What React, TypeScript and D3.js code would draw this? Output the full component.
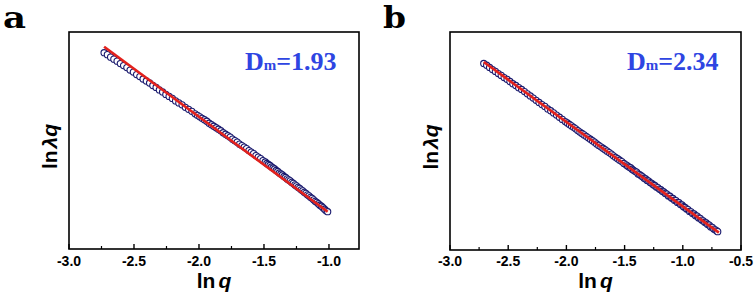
import React from "react";
import * as d3 from "d3";

// ---------- data ----------
const lnqA = [
  -2.73, -2.705, -2.68, -2.655, -2.63, -2.605, -2.58, -2.555, -2.53, -2.505,
  -2.48, -2.455, -2.43, -2.405, -2.38, -2.355, -2.33, -2.305, -2.28, -2.255,
  -2.23, -2.205, -2.18, -2.155, -2.13, -2.105, -2.08, -2.055, -2.03, -2.012,
  -1.994, -1.976, -1.958, -1.94, -1.922, -1.904, -1.886, -1.868, -1.85, -1.832,
  -1.814, -1.796, -1.778, -1.76, -1.742, -1.724, -1.706, -1.688, -1.67, -1.652,
  -1.634, -1.616, -1.598, -1.58, -1.562, -1.544, -1.526, -1.508, -1.49, -1.478,
  -1.466, -1.454, -1.442, -1.43, -1.418, -1.406, -1.394, -1.382, -1.37, -1.358,
  -1.346, -1.334, -1.322, -1.31, -1.298, -1.286, -1.274, -1.262, -1.25, -1.238,
  -1.226, -1.214, -1.202, -1.19, -1.178, -1.166, -1.154, -1.142, -1.13, -1.118,
  -1.106, -1.094, -1.082, -1.07, -1.058, -1.046, -1.034, -1.022, -1.01,
];
const lnLambdaA = [
  5.15, 5.11, 5.06, 5.02, 4.98, 4.93, 4.89, 4.85, 4.80, 4.76,
  4.71, 4.67, 4.62, 4.58, 4.54, 4.49, 4.45, 4.40, 4.36, 4.31,
  4.27, 4.23, 4.18, 4.14, 4.10, 4.05, 4.01, 3.97, 3.92, 3.89,
  3.86, 3.83, 3.80, 3.77, 3.73, 3.70, 3.67, 3.64, 3.61, 3.58,
  3.54, 3.51, 3.48, 3.45, 3.41, 3.38, 3.35, 3.31, 3.28, 3.25,
  3.22, 3.18, 3.15, 3.12, 3.08, 3.05, 3.02, 2.98, 2.95, 2.92,
  2.90, 2.88, 2.85, 2.83, 2.81, 2.78, 2.76, 2.73, 2.71, 2.69,
  2.66, 2.64, 2.61, 2.59, 2.57, 2.54, 2.52, 2.49, 2.47, 2.44,
  2.42, 2.39, 2.37, 2.34, 2.32, 2.29, 2.27, 2.24, 2.22, 2.19,
  2.16, 2.14, 2.11, 2.08, 2.06, 2.03, 2.00, 1.97, 1.95,
];

const lnqB = [
  -2.71, -2.685, -2.66, -2.635, -2.61, -2.585, -2.56, -2.535, -2.51, -2.485,
  -2.46, -2.435, -2.41, -2.385, -2.36, -2.335, -2.31, -2.285, -2.26, -2.235,
  -2.21, -2.185, -2.16, -2.135, -2.11, -2.085, -2.06, -2.035, -2.01,
  -1.992, -1.974, -1.956, -1.938, -1.92, -1.902, -1.884, -1.866, -1.848, -1.83,
  -1.812, -1.794, -1.776, -1.758, -1.74, -1.722, -1.704, -1.686, -1.668, -1.65,
  -1.632, -1.614, -1.596, -1.578, -1.56, -1.542, -1.524, -1.506, -1.488,
  -1.475, -1.462, -1.449, -1.436, -1.423, -1.41, -1.397, -1.384, -1.371, -1.358,
  -1.345, -1.332, -1.319, -1.306, -1.293, -1.28, -1.267, -1.254, -1.241, -1.228,
  -1.215, -1.202, -1.189, -1.176, -1.163, -1.15, -1.137, -1.124, -1.111, -1.098,
  -1.085, -1.072, -1.059, -1.046, -1.033, -1.02, -1.007, -0.994, -0.981, -0.968,
  -0.955, -0.942, -0.929, -0.916, -0.903, -0.89, -0.877, -0.864, -0.851, -0.838,
  -0.825, -0.812, -0.799, -0.786, -0.773, -0.76, -0.747, -0.734, -0.721, -0.708,
  -0.7,
];
const lnLambdaB = [
  6.30, 6.25, 6.19, 6.13, 6.08, 6.02, 5.97, 5.91, 5.86, 5.80,
  5.74, 5.69, 5.63, 5.58, 5.52, 5.46, 5.40, 5.34, 5.28, 5.22,
  5.16, 5.11, 5.04, 4.99, 4.93, 4.87, 4.81, 4.75, 4.69,
  4.65, 4.61, 4.57, 4.53, 4.49, 4.44, 4.40, 4.36, 4.32, 4.28,
  4.24, 4.20, 4.16, 4.12, 4.07, 4.03, 3.99, 3.95, 3.91, 3.87,
  3.83, 3.79, 3.74, 3.70, 3.66, 3.62, 3.58, 3.53, 3.49,
  3.46, 3.43, 3.41, 3.37, 3.34, 3.31, 3.29, 3.24, 3.22, 3.19,
  3.16, 3.12, 3.10, 3.06, 3.04, 3.00, 2.98, 2.94, 2.92, 2.88,
  2.86, 2.82, 2.80, 2.76, 2.74, 2.70, 2.68, 2.63, 2.62, 2.57,
  2.56, 2.51, 2.50, 2.45, 2.44, 2.39, 2.38, 2.33, 2.31, 2.27,
  2.25, 2.20, 2.19, 2.14, 2.13, 2.08, 2.07, 2.02, 2.01, 1.96,
  1.94, 1.90, 1.88, 1.84, 1.82, 1.77, 1.76, 1.71, 1.69, 1.66,
  1.64,
];

const fitSlopes = [-1.93, -2.34];
const fitIntercepts = [0, 0];
const fitRangeA = [-2.73, -1.01];
const fitRangeB = [-2.71, -0.69];

const majorTicksA = [-3.0, -2.5, -2.0, -1.5, -1.0];
const minorTicksA = [-2.75, -2.25, -1.75, -1.25];
const majorTicksB = [-3.0, -2.5, -2.0, -1.5, -1.0, -0.5];
const minorTicksB = [-2.75, -2.25, -1.75, -1.25, -0.75];

const panelLetters = ["a", "b"];
const dmValues = ["1.93", "2.34"];

// ---------- styles ----------
const BLUE_TEXT = "#2e45e2";
const RED = "#e3211c";
const NAVY = "#1a1a6e";
const SANS = "'Liberation Sans', Arial, sans-serif";
const SERIF = "'Liberation Serif', 'Times New Roman', serif";
const LETTER_FONT = "'DejaVu Serif', 'Liberation Serif', serif";

type PanelProps = {
  xs: number[];
  ys: number[];
  slope: number;
  intercept: number;
  fitRange: number[];
  majors: number[];
  minors: number[];
  letter: string;
  dm: string;
  frame: { left: number; right: number; top: number; bottom: number };
  xDomain: [number, number];
  yDomain: [number, number];
  letterX: number;
  dmX: number;
  yTitleX: number;
};

function Panel(p: PanelProps) {
  const { frame } = p;
  const x = d3.scaleLinear().domain(p.xDomain).range([frame.left, frame.right]);
  const y = d3.scaleLinear().domain(p.yDomain).range([frame.bottom, frame.top]);
  const fitPts: [number, number][] = p.fitRange.map((v) => [v, p.slope * v + p.intercept]);
  const line = d3
    .line<[number, number]>()
    .x((d) => x(d[0]))
    .y((d) => y(d[1]));
  const cx = (frame.left + frame.right) / 2;
  const cy = (frame.top + frame.bottom) / 2 + 6;
  return (
    <g>
      <text
        x={p.letterX}
        y={28}
        fontFamily={LETTER_FONT}
        fontWeight="bold"
        fontSize={29}
        textLength={23}
        lengthAdjust="spacingAndGlyphs"
        fill="#000"
      >
        {p.letter}
      </text>
      {/* data */}
      <g>
        {p.xs.map((v, i) => (
          <circle
            key={i}
            cx={x(v)}
            cy={y(p.ys[i])}
            r={3.1}
            fill="#fff"
            stroke={NAVY}
            strokeWidth={1.1}
          />
        ))}
      </g>
      <path d={line(fitPts) || ""} stroke={RED} strokeWidth={2.7} fill="none" />
      {/* frame */}
      <rect
        x={frame.left}
        y={frame.top}
        width={frame.right - frame.left}
        height={frame.bottom - frame.top}
        fill="none"
        stroke="#000"
        strokeWidth={1.6}
      />
      {p.majors.map((t) => (
        <line key={"M" + t} x1={x(t)} x2={x(t)} y1={frame.bottom} y2={frame.bottom - 5} stroke="#000" strokeWidth={1.4} />
      ))}
      {p.minors.map((t) => (
        <line key={"m" + t} x1={x(t)} x2={x(t)} y1={frame.bottom} y2={frame.bottom - 3} stroke="#000" strokeWidth={1.2} />
      ))}
      {p.majors.map((t) => (
        <text
          key={"L" + t}
          x={x(t)}
          y={266}
          textAnchor="middle"
          fontFamily={SANS}
          fontWeight="bold"
          fontSize={14}
          fill="#000"
        >
          {t.toFixed(1)}
        </text>
      ))}
      <text x={cx} y={288} textAnchor="middle" fontFamily={SANS} fontWeight="bold" fontSize={21} fill="#000">
        ln
        <tspan dx={3} fontStyle="italic">q</tspan>
      </text>
      <text
        transform={`translate(${p.yTitleX},${cy}) rotate(-90)`}
        textAnchor="middle"
        fontFamily={SANS}
        fontWeight="bold"
        fontSize={21}
        fill="#000"
      >
        ln
        <tspan dx={2} fontStyle="italic">λ</tspan>
        <tspan fontStyle="italic">q</tspan>
      </text>
      <text x={p.dmX} y={70} fontFamily={SERIF} fontWeight="bold" fontSize={26} fill={BLUE_TEXT}>
        D
        <tspan fontSize={15}>m</tspan>
        <tspan>={p.dm}</tspan>
      </text>
    </g>
  );
}

export default function App() {
  return (
    <svg
      width={756}
      height={297}
      viewBox="0 0 756 297"
      style={{ position: "absolute", left: 0, top: 0, background: "#fff" }}
    >
      <rect x={0} y={0} width={756} height={297} fill="#fff" />
      <Panel
        xs={lnqA}
        ys={lnLambdaA}
        slope={fitSlopes[0]}
        intercept={fitIntercepts[0]}
        fitRange={fitRangeA}
        majors={majorTicksA}
        minors={minorTicksA}
        letter={panelLetters[0]}
        dm={dmValues[0]}
        frame={{ left: 69, right: 359, top: 32, bottom: 249 }}
        xDomain={[-3.0, -0.769]}
        yDomain={[1.2, 5.566]}
        letterX={3}
        dmX={245}
        yTitleX={57}
      />
      <Panel
        xs={lnqB}
        ys={lnLambdaB}
        slope={fitSlopes[1]}
        intercept={fitIntercepts[1]}
        fitRange={fitRangeB}
        majors={majorTicksB}
        minors={minorTicksB}
        letter={panelLetters[1]}
        dm={dmValues[1]}
        frame={{ left: 450, right: 741, top: 32, bottom: 250 }}
        xDomain={[-3.0, -0.5]}
        yDomain={[1.131, 7.172]}
        letterX={383}
        dmX={627}
        yTitleX={438}
      />
    </svg>
  );
}
